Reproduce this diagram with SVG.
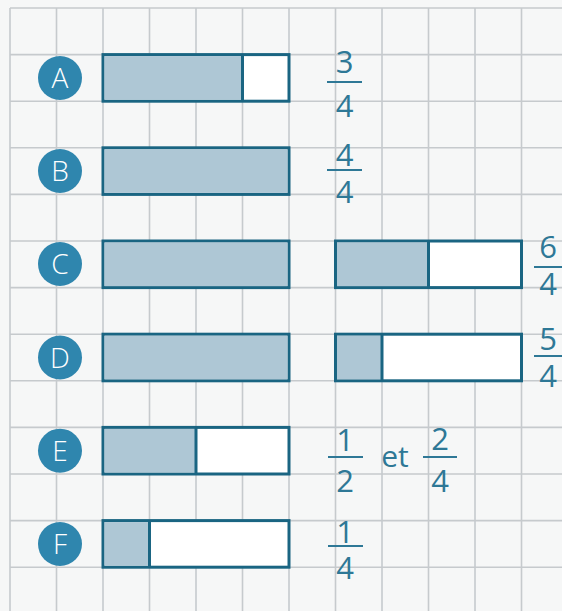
<svg xmlns="http://www.w3.org/2000/svg" width="562" height="611" viewBox="0 0 562 611">
<defs>
<style>
.bg{fill:#f6f7f7}
.grid line{stroke:#c6cacd;stroke-width:1.6}
.bar{fill:#ffffff;stroke:#1a6582;stroke-width:3}
.shade{fill:#a3bfcf;fill-opacity:0.88}
.div{stroke:#1a6582;stroke-width:3}
.lbl circle{fill:#2f86ae}
.lbl text{fill:#ffffff;font-family:"Open Sans","DejaVu Sans",sans-serif;font-weight:300;font-size:28px;text-anchor:middle}
.frac text{fill:#2e7896;font-family:"Open Sans","DejaVu Sans",sans-serif;font-size:31px;text-anchor:middle}
.frac line{stroke:#2e7896;stroke-width:2}
</style>
</defs>
<rect class="bg" x="0" y="0" width="562" height="611"/>
<g class="grid">
<line x1="10" y1="8" x2="10" y2="611"/>
<line x1="56.5" y1="8" x2="56.5" y2="611"/>
<line x1="103" y1="8" x2="103" y2="611"/>
<line x1="149.5" y1="8" x2="149.5" y2="611"/>
<line x1="196" y1="8" x2="196" y2="611"/>
<line x1="242.5" y1="8" x2="242.5" y2="611"/>
<line x1="289" y1="8" x2="289" y2="611"/>
<line x1="335.5" y1="8" x2="335.5" y2="611"/>
<line x1="382" y1="8" x2="382" y2="611"/>
<line x1="428.5" y1="8" x2="428.5" y2="611"/>
<line x1="475" y1="8" x2="475" y2="611"/>
<line x1="521.5" y1="8" x2="521.5" y2="611"/>
<line x1="10" y1="8" x2="562" y2="8"/>
<line x1="10" y1="54.6" x2="562" y2="54.6"/>
<line x1="10" y1="101.2" x2="562" y2="101.2"/>
<line x1="10" y1="147.8" x2="562" y2="147.8"/>
<line x1="10" y1="194.4" x2="562" y2="194.4"/>
<line x1="10" y1="241" x2="562" y2="241"/>
<line x1="10" y1="287.6" x2="562" y2="287.6"/>
<line x1="10" y1="334.2" x2="562" y2="334.2"/>
<line x1="10" y1="380.8" x2="562" y2="380.8"/>
<line x1="10" y1="427.4" x2="562" y2="427.4"/>
<line x1="10" y1="474" x2="562" y2="474"/>
<line x1="10" y1="520.6" x2="562" y2="520.6"/>
<line x1="10" y1="567.2" x2="562" y2="567.2"/>
</g>

<g id="rowA">
<g class="lbl"><circle cx="60" cy="78" r="22"/><text x="60" y="88">A</text></g>
<rect class="bar" x="103" y="54.6" width="186" height="46.6"/>
<rect class="shade" x="104.5" y="56.1" width="138" height="43.6"/>
<line class="div" x1="242.5" y1="54.6" x2="242.5" y2="101.2"/>
<g class="frac"><text x="344.5" y="73">3</text><line x1="327" y1="82" x2="362" y2="82"/><text x="344.5" y="117">4</text></g>
</g>

<g id="rowB">
<g class="lbl"><circle cx="60" cy="171" r="22"/><text x="60" y="181">B</text></g>
<rect class="bar" x="103" y="147.8" width="186" height="46.6"/>
<rect class="shade" x="104.5" y="149.3" width="183" height="43.6"/>
<g class="frac"><text x="344.5" y="166">4</text><line x1="327" y1="170" x2="362" y2="170"/><text x="344.5" y="203">4</text></g>
</g>

<g id="rowC">
<g class="lbl"><circle cx="60" cy="264" r="22"/><text x="60" y="274">C</text></g>
<rect class="bar" x="103" y="241" width="186" height="46.6"/>
<rect class="shade" x="104.5" y="242.5" width="183" height="43.6"/>
<rect class="bar" x="335.5" y="241" width="186" height="46.6"/>
<rect class="shade" x="337" y="242.5" width="91.5" height="43.6"/>
<line class="div" x1="428.5" y1="241" x2="428.5" y2="287.6"/>
<g class="frac"><text x="548" y="258">6</text><line x1="534" y1="267" x2="562" y2="267"/><text x="548" y="295">4</text></g>
</g>

<g id="rowD">
<g class="lbl"><circle cx="60" cy="357.5" r="22"/><text x="60" y="367.5">D</text></g>
<rect class="bar" x="103" y="334.2" width="186" height="46.6"/>
<rect class="shade" x="104.5" y="335.7" width="183" height="43.6"/>
<rect class="bar" x="335.5" y="334.2" width="186" height="46.6"/>
<rect class="shade" x="337" y="335.7" width="45" height="43.6"/>
<line class="div" x1="382" y1="334.2" x2="382" y2="380.8"/>
<g class="frac"><text x="548" y="350">5</text><line x1="534" y1="356" x2="562" y2="356"/><text x="548" y="387">4</text></g>
</g>

<g id="rowE">
<g class="lbl"><circle cx="60" cy="450.7" r="22"/><text x="60" y="460.7">E</text></g>
<rect class="bar" x="103" y="427.4" width="186" height="46.6"/>
<rect class="shade" x="104.5" y="428.9" width="91.5" height="43.6"/>
<line class="div" x1="196" y1="427.4" x2="196" y2="474"/>
<g class="frac"><text x="345" y="451">1</text><line x1="328" y1="457" x2="363" y2="457"/><text x="345" y="492">2</text>
<text x="395" y="467" style="font-size:30px">et</text>
<text x="440" y="450">2</text><line x1="423" y1="457" x2="457" y2="457"/><text x="440" y="492">4</text></g>
</g>

<g id="rowF">
<g class="lbl"><circle cx="60" cy="544" r="22"/><text x="60" y="554">F</text></g>
<rect class="bar" x="103" y="520.6" width="186" height="46.6"/>
<rect class="shade" x="104.5" y="522.1" width="45" height="43.6"/>
<line class="div" x1="149.5" y1="520.6" x2="149.5" y2="567.2"/>
<g class="frac"><text x="345" y="543">1</text><line x1="328" y1="546" x2="363" y2="546"/><text x="345" y="579">4</text></g>
</g>
</svg>
